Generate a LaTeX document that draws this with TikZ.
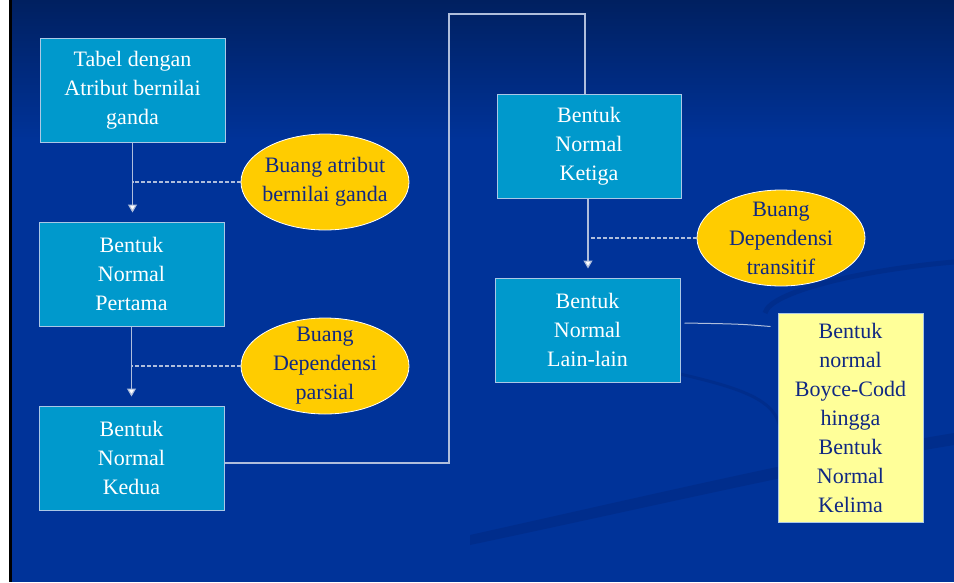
\documentclass[tikz,border=0pt]{standalone}
\usepackage{fontspec}
\setmainfont{Liberation Serif}
\usetikzlibrary{arrows.meta,shapes.geometric,calc}
\definecolor{bgblue}{RGB}{0,51,153}
\definecolor{bgtop}{RGB}{0,32,96}
\definecolor{swoosh}{RGB}{0,45,140}
\definecolor{boxblue}{RGB}{0,153,204}
\definecolor{boxedge}{RGB}{170,200,230}
\definecolor{ovalfill}{RGB}{255,204,0}
\definecolor{darktext}{RGB}{16,40,130}
\definecolor{paleyellow}{RGB}{255,255,153}
\definecolor{linecol}{RGB}{175,190,220}
\tikzset{
  stepbox/.style={draw=boxedge, line width=1pt, fill=boxblue, text=white,
    minimum width=185pt, minimum height=104pt, inner sep=0pt, align=center,
    font=\fontsize{22}{29}\selectfont},
  oval/.style={ellipse, draw=white, line width=0.8pt, fill=ovalfill, text=darktext,
    minimum width=168pt, minimum height=96pt, inner xsep=-14pt, inner ysep=-18pt, align=center,
    font=\fontsize{22}{29}\selectfont},
  notebox/.style={draw=boxedge, line width=1pt, fill=paleyellow, text=darktext,
    minimum width=145pt, minimum height=209pt, inner sep=0pt, align=center,
    font=\fontsize{22}{29}\selectfont},
  arr/.style={draw=linecol, line width=1.2pt, -{Triangle[width=9pt,length=8pt,fill=white]}, shorten >=9pt},
  dashline/.style={draw=linecol, line width=1.2pt, dash pattern=on 3.5pt off 2.5pt},
  conn/.style={draw=linecol, line width=1.2pt}
}
\begin{document}
\begin{tikzpicture}[x=1pt,y=-1pt]
\useasboundingbox (0,0) rectangle (954,582);
% background
\fill[bgblue] (12,0) rectangle (954,582);
\shade[top color=bgtop, bottom color=bgblue] (12,0) rectangle (954,140);
\fill[white] (0,0) rectangle (9,582);
\fill[black] (9,0) rectangle (12,582);
% decorative swooshes
\fill[swoosh] (470,535) .. controls (650,495) and (820,455) .. (954,433) -- (954,445) .. controls (820,467) and (650,507) .. (470,545) -- cycle;
\draw[swoosh, line width=3pt] (680,374) .. controls (740,388) and (778,400) .. (780,430);
\draw[swoosh, line width=5pt] (765,313) .. controls (770,292) and (860,270) .. (954,262);

% nodes
\node[stepbox] (A) at (132.5,90) {Tabel dengan\\Atribut bernilai\\ganda};
\node[stepbox] (B) at (131.5,274) {Bentuk\\Normal\\Pertama};
\node[stepbox] (C) at (131.5,458) {Bentuk\\Normal\\Kedua};
\node[stepbox, minimum width=184pt] (D) at (589,146) {Bentuk\\Normal\\Ketiga};
\node[stepbox] (E) at (587.5,330) {Bentuk\\Normal\\Lain-lain};
\node[oval] (O1) at (325,182) {Buang atribut\\bernilai ganda};
\node[oval] (O2) at (325,366) {Buang\\Dependensi\\parsial};
\node[oval] (O3) at (781,238) {Buang\\Dependensi\\transitif};
\node[notebox] (F) at (850.5,417.5) {Bentuk\\normal\\Boyce-Codd\\hingga\\Bentuk\\Normal\\Kelima};

% arrows
\draw[arr] (A.south) -- (A.south |- B.north);
\draw[arr] (B.south) -- (B.south |- C.north);
\draw[arr] ([xshift=-1pt]D.south) -- ([xshift=-1pt]D.south |- E.north);
% dashed
\draw[dashline] (O1.west) -- (O1.west -| A.south);
\draw[dashline] (O2.west) -- (O2.west -| B.south);
\draw[dashline] (O3.west) -- (O3.west -| E.north);
% elbow C -> D
\coordinate (t1) at (449,14);
\draw[conn] ([yshift=-5pt]C.east) -| (t1) -| ([xshift=-4pt]D.north);
% E -> F
\coordinate (ef1) at ($(E.east)+(4,-7)$);
\coordinate (ef2) at ($(F.west)+(-7,-91)$);
\draw[conn, line width=1pt] (ef1) .. controls (740,324) .. (ef2);
\end{tikzpicture}
\end{document}
